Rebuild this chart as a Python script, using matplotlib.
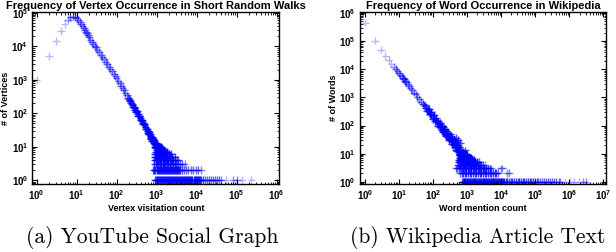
import numpy as np
import matplotlib
matplotlib.use('Agg')
import matplotlib.pyplot as plt

plt.rcParams['font.family'] = 'Liberation Sans'
plt.rcParams['font.weight'] = 'bold'
plt.rcParams['mathtext.fontset'] = 'custom'
plt.rcParams['mathtext.rm'] = 'Liberation Sans:bold'
plt.rcParams['mathtext.bf'] = 'Liberation Sans:bold'
plt.rcParams['mathtext.default'] = 'bf'

# ---------------------------------------------------------------------------
# (a) YouTube: vertex visitation counts  (x = visits, y = number of vertices)
yt_curve_x = [1, 2, 3, 4, 5, 6, 7, 8, 9, 10, 11, 12, 13, 14, 15, 16, 17, 18, 19, 20,
              22, 24, 26, 28, 30, 33, 36, 40, 44, 48, 53, 58, 64, 70, 77, 85, 93, 100,
              110, 120, 130, 140, 150, 165, 180, 195, 210, 230, 250, 270, 290, 310,
              335, 360, 390, 420, 450, 480, 520, 560, 600, 650, 700, 750, 800, 860, 920, 980]
yt_curve_y = [980, 5200, 14500, 29500, 47000, 64000, 74000, 78000, 76000, 70000, 61000,
              53000, 46000, 40000, 35000, 31000, 27500, 24500, 21500, 19000,
              16100, 13800, 12000, 10500, 9350, 7900, 6800, 5650, 4800, 4100, 3460, 2950,
              2480, 2120, 1800, 1510, 1290, 1140,
              940, 785, 664, 571, 496, 408, 341, 289, 249, 206, 174, 149, 128, 112,
              95, 82, 70, 60, 52, 46, 39, 33, 29, 24.5, 21, 18, 16, 14, 12, 10.6]
yt_spread_x = [205, 215, 240, 260, 280, 300, 320, 345, 370, 400, 430, 460, 500, 540, 580,
               600, 620, 650, 680, 700, 720, 760, 780, 820, 830, 880, 900, 950, 960, 1000]
yt_spread_y = [270, 230, 195, 150, 145, 112, 115, 84, 82, 62, 62, 46, 45, 33, 34,
               25, 24, 28, 24, 18, 17, 15, 19, 17, 13, 15, 10, 9, 13, 12]
yt_level10 = [950, 1010, 1080, 1150, 1250]
yt_level9 = [980, 1050, 1120, 1200, 1300, 1380]
yt_level8 = [1000, 1090, 1180, 1260, 1350, 1450, 1520]
yt_level7 = [960, 1040, 1130, 1220, 1310, 1420, 1540, 1650, 1780]
yt_level6 = [900, 990, 1070, 1150, 1240, 1340, 1460, 1580, 1700, 1850, 2000, 2300]
yt_level5 = [900, 970, 1050, 1140, 1230, 1330, 1440, 1560, 1690, 1830, 2000, 2200, 2450, 2800]
yt_level4 = [880, 950, 1030, 1120, 1210, 1310, 1420, 1540, 1670, 1810, 1970, 2150, 2350,
             2600, 2900, 3300, 3500]
yt_level3 = [880, 950, 1020, 1100, 1190, 1290, 1400, 1520, 1650, 1790, 1950, 2120, 2320,
             2550, 2800, 3100, 3450, 3800, 4300, 5000]
yt_level2 = [830, 880, 930, 990, 1050, 1110, 1180, 1250, 1330, 1410, 1500, 1590, 1690,
             1790, 1900, 2020, 2140, 2270, 2410, 2560, 2720, 2890, 3070, 3260, 3460, 3680,
             3900, 4300, 4800, 5400, 6200, 7100, 8100, 9500, 11000, 13000]
yt_level1 = [900, 950, 1000, 1060, 1120, 1190, 1260, 1340, 1420, 1500, 1590, 1690, 1790,
             1900, 2010, 2130, 2260, 2400, 2550, 2700, 2860, 3040, 3220, 3420, 3630, 3850,
             4080, 4330, 4600, 4880, 5180, 5500, 5830, 6190, 6570, 6970, 7400, 7850, 8330,
             8840, 9380, 9950, 10600, 11200, 11900, 13000, 14500, 16000, 18000, 20000,
             22500, 25000, 28000, 32000, 36000, 40000, 55000, 83000, 100000, 138000, 234000]

# (b) Wikipedia: word mention counts  (x = mentions, y = number of words)
wk_curve_x = [1, 2, 3, 4, 5, 6, 7, 8, 9, 10, 11, 12, 13, 14, 15, 16, 18, 20, 22, 25, 28,
              31, 35, 40, 45, 50, 56, 63, 70, 78, 87, 97, 108, 120, 135, 150, 170, 190,
              210, 235, 260, 290, 320, 350, 390, 430, 480, 530, 590, 650, 720, 800, 900, 1000]
wk_curve_y = [460000, 105000, 50000, 30000, 21000, 16000, 12500, 10200, 8600, 7340, 6340,
              5540, 4890, 4360, 3920, 3540, 2950, 2510, 2160, 1770, 1490, 1270, 1050, 855,
              713, 605, 508, 424, 360, 304, 256, 217, 184, 156, 130, 110, 91, 76, 65, 55,
              47, 40, 34, 30, 25, 21.6, 18.2, 15.6, 13.2, 11.3, 9.7, 8.2, 6.9, 6.0]
wk_spread_x = [60, 66, 75, 82, 90, 100, 105, 115, 125, 140, 145, 160, 165, 180, 185, 200,
               205, 220, 225, 245, 250, 270, 280, 300, 310, 330, 340, 360, 370, 400, 410,
               440, 450, 470, 470, 500, 510, 550, 560, 560, 600, 620, 620, 680, 700, 750,
               780, 850, 880, 900, 950, 1000, 1100, 1200, 1300, 1500]
wk_spread_y = [520, 330, 380, 250, 300, 170, 240, 140, 190, 100, 140, 85, 120, 70, 100, 60,
               85, 50, 75, 42, 62, 38, 55, 30, 48, 27, 42, 22, 36, 20, 32, 17, 28, 14, 36,
               25, 12, 20, 11, 30, 17, 9, 24, 14, 8, 12, 7, 10, 6, 13, 9, 5, 7, 6, 5, 4]
wk_level10 = [600, 680, 760, 850]
wk_level9 = [620, 700, 780, 880, 980]
wk_level8 = [640, 720, 810, 900, 1010, 1130]
wk_level7 = [600, 670, 750, 840, 940, 1050, 1180, 1320]
wk_level6 = [560, 630, 700, 790, 880, 990, 1110, 1240, 1390, 1560]
wk_level5 = [560, 630, 700, 780, 870, 970, 1090, 1220, 1370, 1530, 1720, 1930, 2200]
wk_level4 = [540, 610, 680, 760, 850, 950, 1060, 1190, 1330, 1490, 1670, 1870, 2100,
             2350, 2650, 3000, 3400]
wk_level3 = [480, 520, 590, 660, 740, 830, 930, 1040, 1160, 1300, 1460, 1630, 1830, 2050,
             2300, 2580, 2900, 3250, 3650, 4100, 4600, 5200, 9800, 10400]
wk_level2 = [620, 690, 770, 860, 960, 1070, 1200, 1340, 1500, 1680, 1880, 2100, 2350,
             2630, 2950, 3300, 3700, 4150, 4650, 5200, 5800, 6500, 7300, 8200, 15000, 16700]
wk_level1 = [700, 740, 790, 840, 890, 950, 1010, 1070, 1140, 1210, 1290, 1370, 1460, 1550,
             1650, 1750, 1860, 1980, 2100, 2240, 2380, 2530, 2690, 2860, 3040, 3230, 3440,
             3660, 3890, 4130, 4390, 4670, 4970, 5280, 5620, 5970, 6350, 6750, 7180, 7640,
             8120, 8640, 9190, 9770, 10400, 11000, 12000, 13500, 15000, 17000, 19000,
             21500, 24000, 27000, 30500, 34000, 38500, 43000, 48500, 54500, 61000, 69000,
             77000, 87000, 98000, 110000, 125000, 140000, 160000, 180000, 205000, 235000,
             270000, 310000, 360000, 420000, 490000, 550000, 760000, 1070000, 1400000,
             1900000, 2600000, 3000000]


def juntar(cx, cy, sx, sy, niveis):
    xs = list(cx) + list(sx)
    ys = list(cy) + list(sy)
    for nivel, lista in niveis.items():
        xs += lista
        ys += [nivel] * len(lista)
    return np.array(xs, float), np.array(ys, float)


yt_x, yt_y = juntar(yt_curve_x, yt_curve_y, yt_spread_x, yt_spread_y,
                    {1: yt_level1, 2: yt_level2, 3: yt_level3, 4: yt_level4, 5: yt_level5,
                     6: yt_level6, 7: yt_level7, 8: yt_level8, 9: yt_level9, 10: yt_level10})
wk_x, wk_y = juntar(wk_curve_x, wk_curve_y, wk_spread_x, wk_spread_y,
                    {1: wk_level1, 2: wk_level2, 3: wk_level3, 4: wk_level4, 5: wk_level5,
                     6: wk_level6, 7: wk_level7, 8: wk_level8, 9: wk_level9, 10: wk_level10})

fig = plt.figure(figsize=(6.16, 2.52), dpi=100)
ax1 = fig.add_axes([0.0524, 0.2698, 0.401, 0.6813])
ax2 = fig.add_axes([0.5844, 0.2698, 0.3994, 0.6813])

paineis = [
    (ax1, yt_x, yt_y, 'Frequency of Vertex Occurrence in Short Random Walks',
     'Vertex visitation count', '# of Vertices', (0.776, 1.16e6), (0.76, 1.05e5)),
    (ax2, wk_x, wk_y, 'Frequency of Word Occurrence in Wikipedia',
     'Word mention count', '# of Words', (0.72, 1.2e7), (0.83, 1.06e6)),
]

for ax, x, y, titulo, xl, yl, xlim, ylim in paineis:
    ax.set_xscale('log')
    ax.set_yscale('log')
    ax.set_xlim(*xlim)
    ax.set_ylim(*ylim)
    # the original has far more points than listed here; darken crowded spots
    # so the overlap looks like the original
    pix = ax.transData.transform(np.column_stack([x, y]))
    d = np.hypot(pix[:, None, 0] - pix[None, :, 0], pix[:, None, 1] - pix[None, :, 1])
    viz = (d < 3.5).sum(axis=1) - 1
    alfa = 1 - 0.72 ** (1 + 0.9 * viz)
    cores = np.zeros((len(x), 4))
    cores[:, 2] = 1.0
    cores[:, 3] = alfa
    ax.scatter(x, y, marker='+', c=cores, s=30, linewidths=1.0)
    ax.set_title(titulo, fontsize=8, fontweight='bold', pad=2.5)
    ax.set_xlabel(xl, fontsize=6.5, fontweight='bold', labelpad=1.5)
    ax.set_ylabel(yl, fontsize=6.5, fontweight='bold', labelpad=1)
    ax.tick_params(which='both', direction='in', top=True, right=True, labelsize=7)
    ax.tick_params(which='major', length=3.5, width=0.8, pad=3)
    ax.tick_params(which='minor', length=1.8, width=0.6)
    for s in ax.spines.values():
        s.set_linewidth(1.0)

fig.text(152 / 616, 0.056, '(a) YouTube Social Graph', family='cmr10', fontweight='normal',
         fontsize=15.5, ha='center', va='center')
fig.text(478 / 616, 0.056, '(b) Wikipedia Article Text', family='cmr10', fontweight='normal',
         fontsize=15.5, ha='center', va='center')

fig.savefig('out.png', dpi=100)
